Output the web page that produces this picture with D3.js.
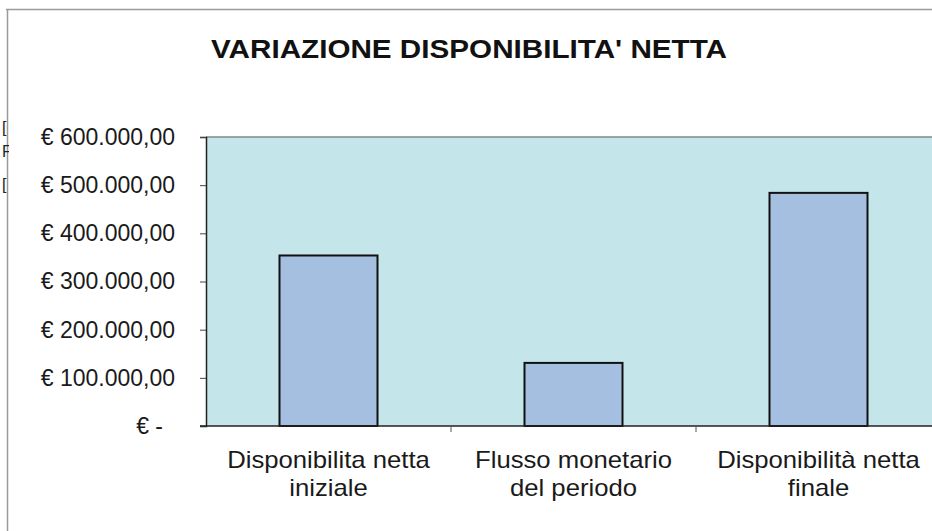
<!DOCTYPE html>
<html lang="it">
<head>
<meta charset="UTF-8" />
<title>Variazione disponibilità netta</title>
<script src="https://d3js.org/d3.v7.min.js"></script>
<style>
  html, body { margin: 0; padding: 0; background: #fff; }
  svg { display: block; font-family: "Liberation Sans", Arial, sans-serif; }
</style>
</head>
<body>
<div id="chart"></div>
<script>
// data
const categories = ["Disponibilita netta iniziale", "Flusso monetario del periodo", "Disponibilità netta finale"];
const labelLines = [["Disponibilita netta", "iniziale"], ["Flusso monetario", "del periodo"], ["Disponibilità netta", "finale"]];
const values = [354000, 131000, 484000];
const yTicks = [0, 100000, 200000, 300000, 400000, 500000, 600000];
const title = "VARIAZIONE DISPONIBILITA' NETTA";

const W = 932, H = 531;
const plot = { left: 206, top: 137, right: 941, bottom: 426 };

const svg = d3.select("#chart").append("svg")
  .attr("width", W).attr("height", H);

// outer chart frame (partly cut off)
svg.append("line").attr("x1", 6).attr("x2", W).attr("y1", 9.5).attr("y2", 9.5)
  .attr("stroke", "#9a9a9a").attr("stroke-width", 1.5);
svg.append("line").attr("x1", 7.5).attr("x2", 7.5).attr("y1", 9).attr("y2", H)
  .attr("stroke", "#9a9a9a").attr("stroke-width", 1.5);

// bits of something hidden behind the chart on the left edge
svg.append("clipPath").attr("id", "leftclip").append("rect")
  .attr("x", 0).attr("y", 0).attr("width", 9).attr("height", H);
const stray = svg.append("g").attr("clip-path", "url(#leftclip)")
  .attr("font-size", 16).attr("fill", "#222");
[["[", 133], ["F", 157], ["[", 190]].forEach(([t, y]) => {
  stray.append("text").attr("x", 2).attr("y", y).text(t);
});

// title
svg.append("text")
  .attr("x", 469).attr("y", 58)
  .attr("text-anchor", "middle")
  .attr("font-size", 25).attr("font-weight", "bold").attr("fill", "#111")
  .attr("textLength", 516).attr("lengthAdjust", "spacingAndGlyphs")
  .text(title);

const x = d3.scaleBand()
  .domain(categories)
  .range([plot.left, plot.right])
  .paddingInner(0.6)
  .paddingOuter(0.3);

const y = d3.scaleLinear()
  .domain([0, 600000])
  .range([plot.bottom, plot.top]);

// plot area
svg.append("rect")
  .attr("x", plot.left).attr("y", plot.top)
  .attr("width", plot.right - plot.left).attr("height", plot.bottom - plot.top)
  .attr("fill", "#c4e5ea");
svg.append("line")
  .attr("x1", plot.left).attr("x2", plot.right)
  .attr("y1", plot.top).attr("y2", plot.top)
  .attr("stroke", "#7d8a8c").attr("stroke-width", 1.5);

// bars
svg.append("g").selectAll("rect")
  .data(values)
  .join("rect")
  .attr("x", (d, i) => x(categories[i]))
  .attr("y", d => y(d))
  .attr("width", x.bandwidth())
  .attr("height", d => y(0) - y(d))
  .attr("fill", "#a5bfe1")
  .attr("stroke", "#111")
  .attr("stroke-width", 2);

// y axis
const it = d3.formatLocale({ decimal: ",", thousands: ".", grouping: [3], currency: ["€", ""] });
const fmt = it.format(",.2f");

const yAxis = svg.append("g")
  .attr("transform", `translate(${plot.left},0)`)
  .call(d3.axisLeft(y).tickValues(yTicks).tickSize(6).tickPadding(25)
    .tickFormat(d => d === 0 ? "€ -" : "€ " + fmt(d)));
yAxis.select(".domain").attr("stroke", "#222").attr("stroke-width", 1.5);
yAxis.selectAll(".tick line").attr("stroke", "#444");
yAxis.selectAll("text")
  .attr("font-size", 23).attr("fill", "#1a1a1a")
  .attr("font-family", "'Liberation Sans', Arial, sans-serif")
  .attr("dx", d => d === 0 ? -12 : 0);

// x axis: ticks on the category boundaries
const step = x.step();
const boundaryTicks = d3.range(1, categories.length).map(i => plot.left + i * step);

const xAxisG = svg.append("g");
xAxisG.append("line")
  .attr("x1", plot.left - 6).attr("x2", plot.right)
  .attr("y1", plot.bottom).attr("y2", plot.bottom)
  .attr("stroke", "#222").attr("stroke-width", 1.5);
xAxisG.selectAll(".bt")
  .data(boundaryTicks)
  .join("line")
  .attr("class", "bt")
  .attr("x1", d => d).attr("x2", d => d)
  .attr("y1", plot.bottom).attr("y2", plot.bottom + 6)
  .attr("stroke", "#555");

// category labels, two lines each
categories.forEach((c, i) => {
  const cx = x(c) + x.bandwidth() / 2;
  labelLines[i].forEach((line, j) => {
    const t = xAxisG.append("text")
      .attr("x", cx).attr("y", 468 + j * 28)
      .attr("text-anchor", "middle")
      .attr("font-size", 24).attr("fill", "#1a1a1a")
      .text(line);
    const w = t.node().getComputedTextLength();
    t.attr("textLength", w * 1.07).attr("lengthAdjust", "spacingAndGlyphs");
  });
});
</script>
</body>
</html>
